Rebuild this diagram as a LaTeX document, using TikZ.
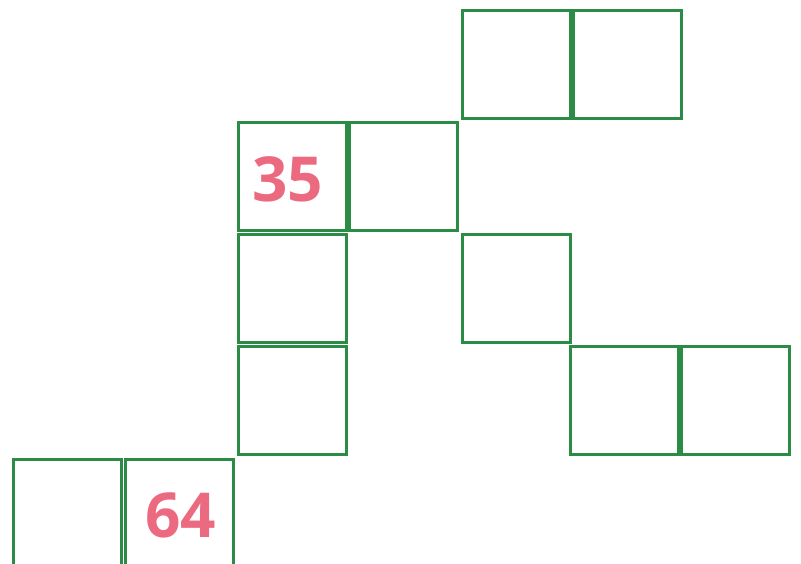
\documentclass[tikz,border=0pt]{standalone}
\usepackage{fontspec}
\setmainfont{Open Sans}
\definecolor{cellLine}{RGB}{43,140,69}
\definecolor{numText}{RGB}{235,106,128}

\begin{document}
\begin{tikzpicture}[x=1pt, y=-1pt,
  cell/.style={draw=cellLine, line width=3.2pt, minimum size=108pt,
    inner sep=0pt, anchor=north west},
  num/.style={font=\fontsize{62}{62}\selectfont\bfseries, text=numText}]
\useasboundingbox (0,0) rectangle (801,564);
%% -- top row ---------------------------------------------------------
\node[cell] (topL) at (460.5,9) {};
\node[cell] (topR) at (572,9) {};
%% -- second row ------------------------------------------------------
\node[cell] (midA) at (237,121) {};
\node[cell] (midB) at (348,121) {};
%% -- third row -------------------------------------------------------
\node[cell] (colA) at (237,233) {};
\node[cell] (colC) at (461,233) {};
%% -- fourth row ------------------------------------------------------
\node[cell] (lowA) at (237,345) {};
\node[cell] (lowL) at (569,345) {};
\node[cell] (lowR) at (680,345) {};
%% -- bottom row ------------------------------------------------------
\node[cell] (botL) at (12,458) {};
\node[cell] (botR) at (124,458) {};
%% -- numbers ---------------------------------------------------------
\node[num] (numA) at ([xshift=-5pt,yshift=-3pt]midA.center) {35};
\node[num] (numB) at ([xshift=1pt,yshift=-2pt]botR.center) {64};
\end{tikzpicture}
\end{document}
